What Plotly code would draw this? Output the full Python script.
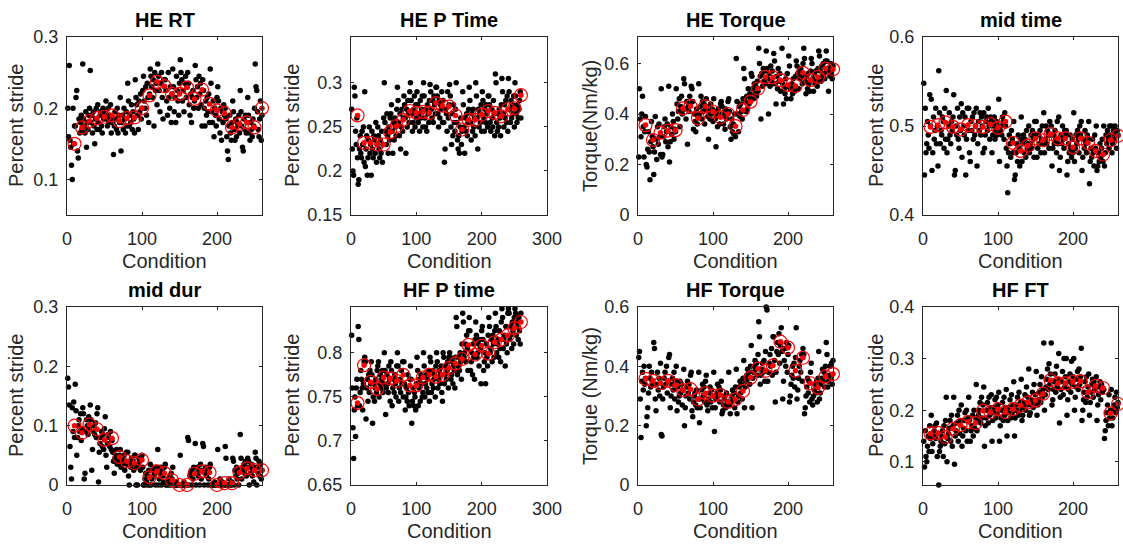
import plotly.graph_objects as go

# ---------------- data ----------------
condition = list(range(1, 261))          # individual trials (x of black dots)
group_condition = list(range(10, 261, 10))  # group positions (x of red circles)

he_rt = [
    .200, .160, .260, .155, .145, .120, .100, .200, .150, .175,
    .175, .215, .225, .140, .130, .185, .165, .180, .190, .170,
    .262, .185, .175, .165, .195, .145, .180, .170, .190, .200,
    .253, .180, .190, .165, .195, .175, .150, .185, .200, .170,
    .205, .180, .170, .190, .195, .175, .165, .200, .185, .190,
    .195, .210, .185, .175, .200, .180, .190, .205, .165, .185,
    .180, .135, .175, .195, .185, .170, .200, .165, .190, .180,
    .215, .140, .180, .190, .170, .200, .185, .165, .195, .175,
    .235, .210, .175, .190, .180, .205, .170, .195, .185, .165,
    .240, .215, .205, .190, .170, .210, .195, .220, .185, .200,
    .225, .245, .210, .200, .230, .190, .235, .215, .180, .220,
    .255, .245, .230, .215, .240, .175, .250, .225, .235, .205,
    .262, .245, .225, .195, .235, .250, .215, .185, .240, .230,
    .240, .225, .210, .190, .250, .215, .200, .230, .180, .220,
    .255, .230, .195, .215, .180, .245, .225, .210, .190, .235,
    .268, .250, .240, .210, .225, .195, .235, .245, .215, .230,
    .250, .235, .205, .190, .220, .180, .215, .225, .200, .210,
    .260, .240, .215, .230, .200, .245, .220, .235, .205, .175,
    .240, .225, .200, .175, .210, .190, .215, .195, .220, .180,
    .255, .235, .195, .180, .210, .160, .200, .190, .175, .215,
    .230, .210, .185, .165, .200, .155, .195, .180, .205, .190,
    .200, .185, .160, .140, .128, .175, .190, .165, .155, .180,
    .210, .195, .170, .155, .185, .160, .180, .175, .190, .165,
    .225, .195, .175, .145, .140, .185, .170, .190, .165, .180,
    .215, .190, .165, .155, .180, .170, .160, .185, .175, .200,
    .262, .230, .225, .195, .170, .160, .185, .210, .155, .190,
]
he_rt_mean = [.150, .173, .182, .186, .188, .190, .182, .186, .187, .200,
              .218, .237, .231, .220, .220, .229, .213, .226, .206, .197,
              .193, .173, .178, .180, .173, .200]

he_p_time = [
    .270, .225, .200, .195, .295, .285, .245, .230, .260, .215,
    .185, .190, .225, .240, .220, .215, .245, .230, .250, .210,
    .290, .205, .225, .240, .195, .215, .235, .250, .220, .230,
    .195, .245, .225, .215, .240, .235, .220, .255, .210, .230,
    .250, .240, .225, .215, .235, .220, .245, .210, .230, .260,
    .300, .255, .245, .230, .265, .240, .220, .250, .235, .260,
    .265, .275, .245, .220, .255, .235, .260, .250, .240, .270,
    .295, .280, .255, .240, .265, .225, .250, .270, .245, .260,
    .285, .275, .260, .220, .270, .250, .280, .265, .255, .290,
    .300, .280, .265, .245, .255, .270, .285, .250, .275, .260,
    .290, .275, .255, .265, .245, .280, .260, .270, .285, .250,
    .300, .285, .260, .250, .270, .245, .275, .265, .255, .280,
    .298, .290, .270, .260, .280, .255, .285, .275, .265, .295,
    .295, .285, .265, .250, .280, .260, .275, .270, .290, .255,
    .280, .255, .210, .225, .270, .265, .245, .290, .260, .275,
    .298, .285, .250, .230, .265, .240, .275, .255, .245, .270,
    .300, .255, .235, .225, .240, .220, .250, .260, .230, .245,
    .290, .275, .250, .220, .260, .245, .265, .240, .255, .270,
    .295, .280, .255, .235, .265, .245, .270, .250, .260, .240,
    .300, .285, .260, .225, .270, .250, .265, .255, .275, .245,
    .290, .280, .260, .245, .270, .255, .275, .265, .250, .285,
    .285, .275, .255, .245, .270, .260, .250, .280, .265, .240,
    .310, .300, .255, .245, .265, .250, .270, .260, .240, .275,
    .305, .290, .265, .250, .275, .260, .280, .255, .285, .245,
    .305, .290, .270, .255, .280, .260, .275, .265, .285, .250,
    .300, .285, .265, .255, .275, .260, .270, .280, .290, .260,
]
he_p_time_mean = [.263, .232, .232, .230, .230, .244, .251, .258, .268, .266,
                  .267, .266, .277, .274, .273, .263, .247, .258, .258, .264,
                  .268, .266, .262, .270, .271, .286]

he_torque = [
    .230, .500, .380, .310, .400, .470, .350, .230, .330, .390,
    .200, .190, .260, .330, .250, .140, .290, .370, .310, .270,
    .160, .250, .390, .300, .220, .350, .280, .360, .310, .240,
    .500, .230, .240, .310, .350, .380, .290, .330, .360, .270,
    .510, .210, .290, .350, .320, .400, .370, .300, .340, .330,
    .500, .440, .380, .410, .460, .350, .430, .470, .400, .420,
    .540, .520, .420, .380, .450, .280, .430, .410, .470, .440,
    .510, .500, .450, .340, .400, .370, .330, .420, .360, .390,
    .520, .400, .430, .470, .380, .450, .410, .440, .360, .420,
    .460, .430, .390, .300, .410, .380, .440, .400, .420, .370,
    .460, .410, .380, .270, .390, .350, .420, .400, .360, .440,
    .450, .430, .390, .360, .410, .340, .420, .380, .400, .450,
    .460, .410, .350, .300, .380, .330, .360, .320, .400, .310,
    .620, .450, .400, .330, .430, .390, .440, .410, .380, .460,
    .580, .540, .450, .410, .470, .420, .500, .440, .480, .460,
    .560, .550, .500, .460, .520, .480, .510, .470, .530, .490,
    .660, .600, .550, .380, .560, .510, .580, .530, .570, .520,
    .650, .580, .540, .400, .560, .510, .590, .530, .570, .520,
    .640, .610, .520, .440, .550, .500, .580, .530, .560, .490,
    .710, .660, .520, .440, .500, .480, .540, .460, .560, .510,
    .630, .590, .500, .460, .520, .480, .540, .510, .490, .550,
    .610, .590, .560, .500, .570, .540, .580, .550, .520, .600,
    .660, .620, .530, .480, .550, .500, .560, .520, .490, .570,
    .620, .600, .540, .490, .560, .520, .570, .530, .510, .580,
    .650, .630, .570, .530, .590, .550, .600, .560, .540, .610,
    .650, .610, .570, .490, .580, .550, .600, .560, .540, .590,
]
he_torque_mean = [.356, .297, .326, .334, .336, .422, .431, .383, .431, .409,
                  .387, .400, .352, .416, .449, .501, .547, .545, .534, .515,
                  .511, .563, .534, .547, .580, .577]

mid_time = [
    .548, .445, .520, .470, .480, .505, .490, .475, .535, .500,
    .530, .450, .470, .510, .485, .495, .520, .480, .500, .455,
    .562, .515, .480, .495, .490, .510, .505, .475, .520, .485,
    .540, .470, .485, .500, .515, .490, .480, .505, .495, .510,
    .535, .445, .450, .500, .490, .520, .485, .475, .510, .495,
    .525, .465, .515, .500, .490, .510, .445, .485, .520, .495,
    .520, .470, .460, .505, .495, .510, .485, .515, .490, .500,
    .520, .455, .480, .505, .495, .515, .490, .510, .500, .470,
    .515, .475, .490, .505, .510, .495, .520, .500, .485, .510,
    .505, .470, .490, .500, .510, .485, .495, .505, .490, .500,
    .530, .460, .495, .500, .490, .510, .505, .485, .515, .500,
    .475, .455, .425, .470, .490, .480, .465, .495, .485, .470,
    .505, .440, .445, .470, .480, .460, .490, .475, .455, .485,
    .510, .460, .480, .490, .470, .485, .465, .495, .475, .480,
    .500, .470, .480, .490, .475, .495, .485, .465, .505, .490,
    .505, .465, .475, .490, .480, .495, .470, .485, .500, .480,
    .515, .470, .485, .500, .480, .495, .490, .475, .505, .490,
    .500, .455, .475, .490, .480, .495, .485, .470, .505, .480,
    .510, .450, .465, .490, .480, .500, .485, .475, .495, .490,
    .495, .445, .460, .480, .470, .490, .475, .465, .485, .470,
    .515, .460, .475, .490, .480, .495, .485, .470, .500, .490,
    .505, .450, .465, .485, .475, .495, .480, .470, .490, .485,
    .505, .435, .460, .475, .465, .485, .470, .455, .490, .475,
    .500, .450, .455, .470, .460, .480, .465, .475, .485, .460,
    .500, .455, .470, .490, .480, .495, .485, .475, .500, .490,
    .500, .470, .480, .495, .485, .500, .490, .475, .495, .490,
]
mid_time_mean = [.499, .501, .504, .499, .496, .501, .500, .499, .502, .498,
                 .505, .481, .472, .478, .486, .484, .491, .486, .486, .476,
                 .486, .481, .472, .468, .484, .489]

mid_dur = [
    .180, .165, .135, .065, .030, .010, .130, .090, .140, .080,
    .170, .125, .050, .080, .100, .110, .090, .120, .075, .095,
    .130, .120, .010, .020, .090, .110, .100, .085, .115, .095,
    .135, .110, .025, .060, .090, .100, .085, .105, .080, .120,
    .130, .005, .055, .070, .080, .090, .065, .085, .060, .095,
    .115, .050, .030, .070, .085, .080, .065, .090, .060, .075,
    .055, .040, .020, .045, .050, .060, .035, .045, .040, .050,
    .060, .030, .045, .035, .040, .050, .025, .040, .055, .035,
    .055, .015, .000, .040, .030, .045, .035, .040, .025, .050,
    .050, .000, .030, .000, .035, .045, .040, .025, .045, .050,
    .030, .000, .000, .010, .020, .005, .000, .015, .025, .000,
    .035, .000, .010, .025, .030, .015, .020, .000, .030, .025,
    .060, .000, .010, .020, .030, .000, .025, .015, .005, .030,
    .035, .000, .000, .005, .010, .000, .015, .000, .020, .010,
    .030, .000, .000, .000, .000, .005, .000, .000, .000, .000,
    .050, .000, .000, .000, .000, .005, .000, .000, .000, .000,
    .080, .075, .000, .015, .020, .025, .000, .010, .030, .020,
    .070, .000, .020, .030, .015, .025, .000, .035, .010, .025,
    .070, .065, .000, .020, .030, .015, .025, .000, .010, .030,
    .035, .000, .000, .000, .000, .000, .005, .000, .000, .000,
    .060, .000, .000, .010, .000, .000, .005, .000, .000, .000,
    .065, .045, .000, .000, .000, .010, .000, .000, .000, .005,
    .045, .040, .000, .025, .015, .030, .010, .020, .000, .025,
    .085, .045, .010, .030, .025, .035, .020, .040, .015, .030,
    .045, .040, .000, .030, .020, .035, .015, .025, .005, .030,
    .055, .045, .000, .030, .020, .040, .015, .035, .010, .025,
]
mid_dur_mean = [.100, .088, .102, .094, .076, .079, .047, .040, .037, .042,
                .013, .023, .020, .008, .000, .000, .019, .023, .021, .000,
                .003, .003, .021, .028, .025, .025]

hf_p_time = [
    .820, .760, .715, .680, .735, .750, .705, .760, .770, .740,
    .830, .815, .740, .755, .780, .770, .760, .735, .765, .790,
    .795, .790, .725, .760, .770, .745, .775, .755, .780, .765,
    .790, .775, .720, .750, .765, .745, .760, .770, .755, .780,
    .785, .790, .750, .765, .775, .760, .770, .780, .755, .765,
    .800, .780, .730, .760, .775, .765, .755, .785, .770, .745,
    .790, .780, .740, .760, .770, .755, .775, .765, .750, .785,
    .800, .785, .745, .760, .770, .755, .780, .765, .790, .750,
    .790, .765, .735, .750, .760, .745, .775, .755, .740, .770,
    .785, .770, .720, .745, .760, .740, .755, .750, .735, .765,
    .795, .780, .740, .760, .770, .745, .775, .765, .750, .755,
    .800, .785, .750, .765, .775, .760, .770, .755, .780, .745,
    .795, .790, .755, .765, .780, .760, .770, .775, .750, .785,
    .800, .790, .760, .770, .780, .765, .775, .785, .755, .745,
    .800, .795, .765, .775, .785, .770, .780, .790, .760, .795,
    .800, .795, .770, .775, .790, .765, .785, .780, .760, .795,
    .840, .830, .775, .785, .795, .780, .800, .790, .770, .810,
    .845, .835, .795, .800, .810, .790, .820, .805, .780, .825,
    .840, .825, .780, .790, .800, .775, .810, .795, .770, .815,
    .835, .820, .795, .800, .810, .785, .815, .805, .765, .825,
    .830, .815, .780, .790, .800, .765, .810, .795, .785, .820,
    .840, .830, .800, .805, .815, .790, .820, .810, .795, .825,
    .845, .830, .800, .810, .815, .795, .825, .805, .790, .835,
    .850, .840, .805, .815, .820, .785, .830, .810, .800, .845,
    .850, .845, .815, .820, .830, .805, .835, .825, .810, .840,
    .850, .845, .820, .830, .835, .815, .840, .825, .810, .845,
]
hf_p_time_mean = [.743, .786, .767, .759, .772, .771, .768, .775, .763, .763,
                  .772, .775, .773, .775, .783, .788, .793, .809, .798, .808,
                  .799, .812, .815, .820, .828, .835]

hf_torque = [
    .430, .450, .290, .160, .350, .380, .320, .400, .340, .360,
    .200, .230, .260, .310, .400, .360, .330, .380, .350, .340,
    .480, .460, .290, .250, .340, .380, .320, .360, .300, .410,
    .170, .165, .290, .330, .360, .380, .340, .400, .310, .350,
    .430, .440, .260, .300, .340, .360, .320, .380, .290, .350,
    .400, .250, .330, .280, .300, .350, .310, .340, .270, .320,
    .390, .200, .260, .300, .330, .350, .310, .340, .290, .370,
    .380, .250, .230, .280, .300, .310, .270, .320, .260, .290,
    .380, .210, .260, .290, .320, .340, .300, .330, .280, .350,
    .370, .270, .250, .290, .310, .330, .280, .320, .260, .300,
    .380, .180, .260, .290, .310, .340, .300, .330, .280, .320,
    .350, .240, .250, .270, .290, .300, .260, .310, .270, .280,
    .380, .270, .240, .280, .300, .320, .290, .310, .260, .330,
    .390, .240, .280, .300, .330, .350, .310, .340, .290, .360,
    .420, .260, .330, .350, .370, .390, .360, .380, .340, .400,
    .470, .260, .360, .380, .400, .420, .390, .410, .370, .440,
    .550, .500, .340, .370, .390, .410, .380, .420, .350, .450,
    .600, .590, .350, .380, .410, .440, .400, .460, .370, .500,
    .500, .420, .280, .380, .450, .480, .440, .510, .410, .470,
    .530, .450, .290, .350, .420, .460, .400, .480, .380, .440,
    .470, .280, .300, .340, .370, .400, .360, .410, .330, .430,
    .530, .290, .320, .360, .400, .420, .380, .440, .350, .460,
    .440, .240, .260, .300, .330, .360, .310, .350, .280, .380,
    .410, .290, .270, .300, .320, .340, .310, .350, .280, .360,
    .450, .290, .310, .340, .360, .390, .350, .380, .330, .400,
    .480, .440, .330, .350, .370, .400, .360, .410, .340, .420,
]
hf_torque_mean = [.358, .351, .343, .351, .337, .320, .323, .289, .309, .301,
                  .303, .280, .289, .317, .362, .392, .385, .403, .483, .463,
                  .385, .429, .343, .328, .366, .374]

hf_ft = [
    .140, .090, .160, .110, .100, .130, .150, .120, .170, .145,
    .190, .120, .135, .150, .160, .170, .145, .175, .110, .155,
    .055, .120, .130, .140, .150, .160, .110, .170, .135, .180,
    .225, .100, .145, .155, .165, .180, .140, .190, .130, .170,
    .225, .095, .150, .160, .175, .190, .140, .200, .155, .180,
    .210, .130, .150, .165, .180, .195, .160, .200, .140, .185,
    .225, .180, .140, .160, .170, .190, .150, .200, .165, .185,
    .250, .160, .180, .190, .200, .215, .175, .225, .185, .210,
    .245, .130, .170, .185, .200, .215, .175, .225, .190, .205,
    .230, .140, .180, .195, .205, .220, .185, .225, .195, .210,
    .235, .140, .170, .185, .200, .215, .180, .225, .190, .205,
    .240, .150, .180, .195, .205, .220, .185, .230, .195, .210,
    .255, .150, .185, .200, .210, .225, .190, .235, .200, .215,
    .260, .180, .190, .205, .215, .230, .200, .245, .210, .225,
    .280, .190, .195, .210, .220, .235, .205, .250, .215, .230,
    .275, .190, .210, .220, .235, .250, .215, .265, .225, .240,
    .330, .200, .230, .245, .260, .280, .240, .290, .250, .270,
    .330, .210, .220, .240, .255, .270, .235, .285, .245, .260,
    .310, .175, .225, .240, .255, .275, .230, .300, .245, .265,
    .300, .190, .220, .240, .255, .270, .235, .295, .250, .265,
    .300, .200, .225, .245, .260, .275, .240, .280, .250, .265,
    .320, .180, .200, .220, .235, .255, .215, .265, .225, .245,
    .270, .190, .215, .235, .250, .260, .225, .255, .240, .245,
    .265, .180, .210, .230, .245, .255, .220, .250, .235, .240,
    .240, .145, .160, .180, .195, .210, .170, .230, .185, .200,
    .240, .170, .185, .200, .210, .225, .195, .235, .205, .215,
]
hf_ft_mean = [.155, .156, .148, .164, .171, .177, .175, .199, .196, .202,
              .196, .202, .209, .215, .219, .232, .258, .252, .252, .255,
              .256, .235, .247, .243, .194, .212]

titles = ["HE RT", "HE P Time", "HE Torque", "mid time",
          "mid dur", "HF P time", "HF Torque", "HF FT"]
ylabels = ["Percent stride", "Percent stride", "Torque(Nm/kg)", "Percent stride",
           "Percent stride", "Percent stride", "Torque (Nm/kg)", "Percent stride"]
series = [he_rt, he_p_time, he_torque, mid_time, mid_dur, hf_p_time, hf_torque, hf_ft]
means = [he_rt_mean, he_p_time_mean, he_torque_mean, mid_time_mean,
         mid_dur_mean, hf_p_time_mean, hf_torque_mean, hf_ft_mean]
y_ranges = [[0.05, 0.3], [0.15, 0.352], [0, 0.705], [0.4, 0.6],
            [0, 0.3], [0.65, 0.852], [0, 0.6], [0.055, 0.4]]
y_ticks = [[0.1, 0.2, 0.3], [0.15, 0.2, 0.25, 0.3], [0, 0.2, 0.4, 0.6], [0.4, 0.5, 0.6],
           [0, 0.1, 0.2, 0.3], [0.65, 0.7, 0.75, 0.8], [0, 0.2, 0.4, 0.6], [0.1, 0.2, 0.3, 0.4]]
x_ranges = [[0, 260], [0, 300], [0, 260], [0, 260],
            [0, 260], [0, 300], [0, 260], [0, 260]]
x_ticks = [[0, 100, 200], [0, 100, 200, 300], [0, 100, 200], [0, 100, 200],
           [0, 100, 200], [0, 100, 200, 300], [0, 100, 200], [0, 100, 200]]

# ---------------- layout geometry (pixels) ----------------
W, H = 1123, 544
col_px = [(67, 262), (351, 547), (638, 833), (923, 1118)]
row_px = [(37, 215), (307, 485)]
ylabel_shift = [-51, -59, -48, -47]

TXT = "#262626"
FONT = "Liberation Sans, Arial, Helvetica, sans-serif"


def fmt(v):
    return "%g" % v


fig = go.Figure()
annotations = []
layout_axes = {}
for i in range(8):
    r, c = divmod(i, 4)
    xa = "x" if i == 0 else "x%d" % (i + 1)
    ya = "y" if i == 0 else "y%d" % (i + 1)
    xkey = "xaxis" if i == 0 else "xaxis%d" % (i + 1)
    ykey = "yaxis" if i == 0 else "yaxis%d" % (i + 1)
    x0, x1 = col_px[c][0] / W, col_px[c][1] / W
    y0, y1 = 1 - row_px[r][1] / H, 1 - row_px[r][0] / H

    fig.add_trace(go.Scatter(
        x=condition, y=series[i], mode="markers", xaxis=xa, yaxis=ya,
        marker=dict(symbol="circle", size=5.5, color="black", line=dict(width=0)),
        cliponaxis=False, hoverinfo="x+y"))
    fig.add_trace(go.Scatter(
        x=group_condition, y=means[i], mode="markers", xaxis=xa, yaxis=ya,
        marker=dict(symbol="circle-open", size=13, color="red", line=dict(width=1.2, color="red")),
        cliponaxis=False, hoverinfo="x+y"))
    fig.add_trace(go.Scatter(
        x=group_condition, y=means[i], mode="markers", xaxis=xa, yaxis=ya,
        marker=dict(symbol="circle", size=5.5, color="red", line=dict(width=0)),
        cliponaxis=False, hoverinfo="skip"))

    common = dict(showgrid=False, zeroline=False, showline=True, linecolor=TXT, linewidth=1,
                  mirror="allticks", ticks="inside", ticklen=3, tickcolor=TXT, tickwidth=1,
                  automargin=False,
                  tickfont=dict(family=FONT, size=18, color=TXT))
    layout_axes[xkey] = dict(domain=[x0, x1], range=x_ranges[i], anchor=ya,
                             tickvals=x_ticks[i], ticktext=[fmt(v) for v in x_ticks[i]],
                             ticklabelstandoff=7, **common)
    layout_axes[ykey] = dict(domain=[y0, y1], range=y_ranges[i], anchor=xa,
                             tickvals=y_ticks[i], ticktext=[fmt(v) for v in y_ticks[i]],
                             ticklabelstandoff=4, **common)

    xc = (x0 + x1) / 2
    annotations.append(dict(text="<b>%s</b>" % titles[i], x=xc, y=y1, xref="paper", yref="paper",
                            xanchor="center", yanchor="bottom", yshift=4, showarrow=False,
                            font=dict(family=FONT, size=20, color="black")))
    annotations.append(dict(text="Condition", x=xc, y=y0, xref="paper", yref="paper",
                            xanchor="center", yanchor="middle", yshift=-46, showarrow=False,
                            font=dict(family=FONT, size=20, color=TXT)))
    annotations.append(dict(text=ylabels[i], x=x0, y=(y0 + y1) / 2, xref="paper", yref="paper",
                            xanchor="center", yanchor="middle", xshift=ylabel_shift[c],
                            textangle=-90, showarrow=False,
                            font=dict(family=FONT, size=20, color=TXT)))

fig.update_layout(width=W, height=H,
                  margin=dict(l=0, r=0, t=0, b=0, pad=0, autoexpand=False),
                  paper_bgcolor="white", plot_bgcolor="white", showlegend=False,
                  annotations=annotations, **layout_axes)

fig.write_html("out.html")
